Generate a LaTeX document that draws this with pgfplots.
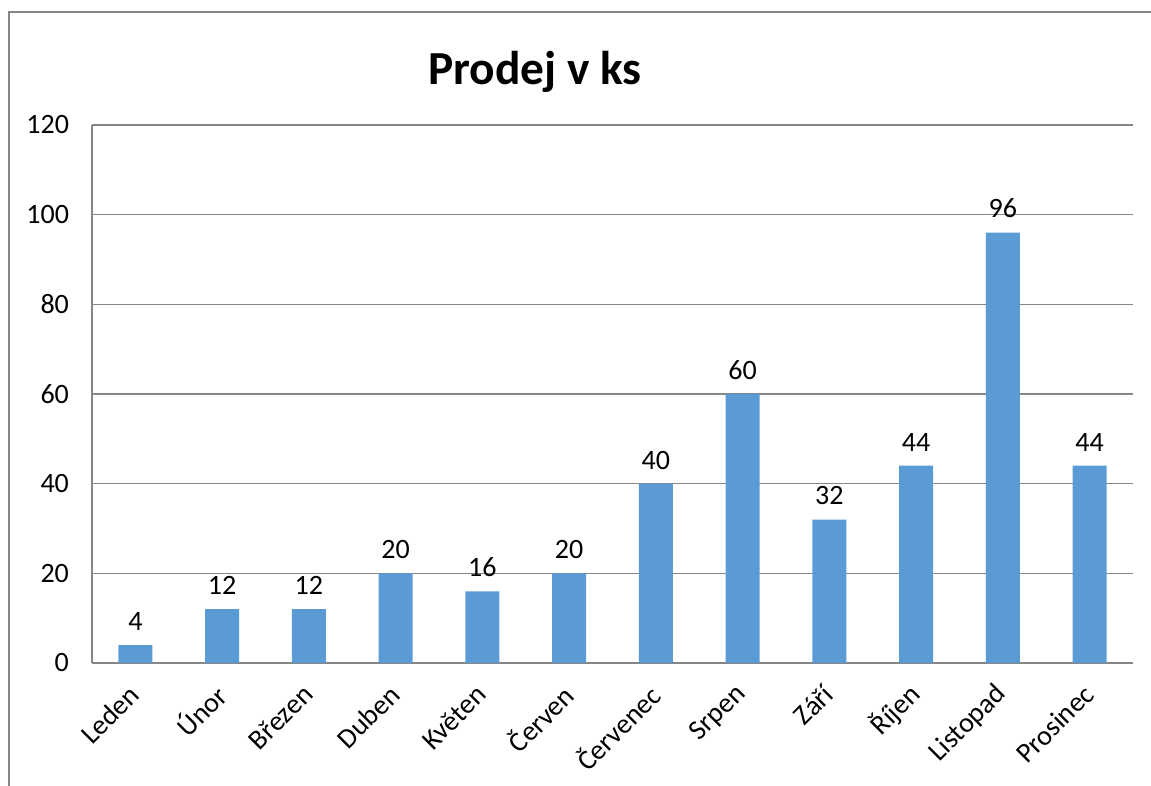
\documentclass[border=0pt]{standalone}
\usepackage{fontspec}
\setmainfont{Carlito}
\usepackage{pgfplots}
\pgfplotsset{compat=1.18}
\definecolor{barblue}{RGB}{91,155,213}
\definecolor{gridgray}{RGB}{134,134,134}
\begin{document}
\begin{tikzpicture}
\path[use as bounding box] (-46pt,-61.5pt) rectangle (529.5pt,331.5pt);
\draw[gridgray, line width=0.6pt] (-41.5pt,-61.5pt) -- (-41.5pt,325.5pt) -- (529.5pt,325.5pt);
\begin{axis}[
  at={(0,0)}, anchor=south west,
  scale only axis, width=520.5pt, height=269pt,
  /pgf/number format/assume math mode=true,
  font=\fontsize{14}{17}\selectfont,
  ybar, bar width=17pt,
  xmin=-0.5, xmax=11.5, ymin=0, ymax=120,
  ytick={0,20,...,120},
  xtick=data,
  xticklabels={Leden,Únor,Březen,Duben,Květen,Červen,Červenec,Srpen,Září,Říjen,Listopad,Prosinec},
  xticklabel style={rotate=45, anchor=east, inner sep=2pt, xshift=1.5pt},
  xticklabel shift=13pt,
  yticklabel style={xshift=-8pt},
  major tick length=0pt,
  axis x line*=bottom, axis y line*=left,
  axis line style={gridgray, line width=0.6pt},
  ymajorgrids, grid style={gridgray, line width=0.6pt},
  title={\fontsize{23.7}{28}\selectfont\bfseries Prodej v ks},
  title style={at={(axis description cs:0.4256,1)}, anchor=base, yshift=14pt},
  nodes near coords,
  nodes near coords style={black, font=\fontsize{14}{17}\selectfont, inner sep=7pt},
]
\addplot[fill=barblue, draw=none] coordinates {
(0,4) (1,12) (2,12) (3,20) (4,16) (5,20) (6,40) (7,60) (8,32) (9,44) (10,96) (11,44)};
\end{axis}
\end{tikzpicture}
\end{document}
